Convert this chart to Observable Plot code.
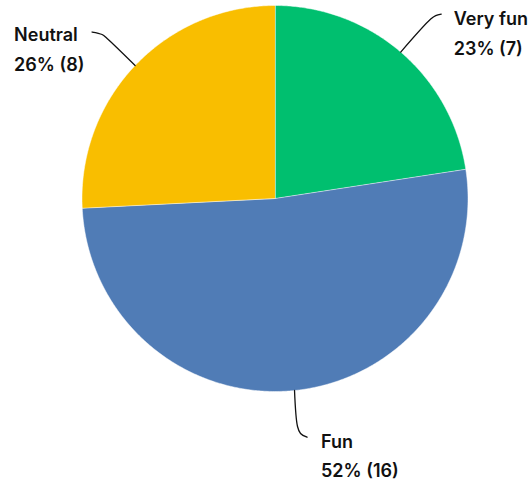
<!DOCTYPE html>
<html>
<head>
<meta charset="utf-8">
<script src="https://cdn.jsdelivr.net/npm/d3@7"></script>
<script src="https://cdn.jsdelivr.net/npm/@observablehq/plot@0.6"></script>
<style>
  html, body { margin: 0; padding: 0; background: #fff; }
  #chart svg { display: block; }
</style>
</head>
<body>
<div id="chart"></div>
<script>
// Survey answers: how fun was it?
const categories = ["Very fun", "Fun", "Neutral"];
const counts = [7, 16, 8];
const colors = ["#00bf6f", "#507cb6", "#f9be00"];

// Layout: pie centre and radius in pixels
const W = 530, H = 482, CX = 274.5, CY = 198, R = 193;
// Leader-line shapes, pixel offsets from the slice's outer mid-point (y down)
const leaderOffsets = [
  [[0, 0], [30, -33], [35, -36.5], [40.5, -38]],
  [[0, 0], [3, 36], [6, 43], [12.5, 46.7]],
  [[0, 0], [-28, -27], [-33, -31], [-43, -33.5]]
];
// Label anchor (left edge, first baseline), pixel offsets from the same point
const labelOffsets = [[53, -26.8], [26.5, 57], [-121, -24.3]];
const lineGap = 29.4;

const total = d3.sum(counts);
const arcs = d3.pie().sort(null).value(d => d)(counts);

// Slice outlines in unit-circle coordinates (0 rad = 12 o'clock, clockwise)
const slices = arcs.flatMap((a, i) => {
  const n = Math.max(2, Math.ceil((a.endAngle - a.startAngle) / (Math.PI / 360)));
  const pts = [{label: categories[i], x: 0, y: 0}];
  for (let k = 0; k <= n; k++) {
    const t = a.startAngle + (a.endAngle - a.startAngle) * k / n;
    pts.push({label: categories[i], x: Math.sin(t), y: Math.cos(t)});
  }
  return pts;
});

const mids = arcs.map(a => {
  const t = (a.startAngle + a.endAngle) / 2;
  return [Math.sin(t), Math.cos(t)];
});

const leaders = leaderOffsets.flatMap((path, i) =>
  path.map(([dx, dy]) => ({label: categories[i], x: mids[i][0] + dx / R, y: mids[i][1] - dy / R}))
);

const labels = categories.map((c, i) => {
  const [lx, ly] = labelOffsets[i];
  return {
    name: c,
    value: `${Math.round(counts[i] / total * 100)}% (${counts[i]})`,
    x: mids[i][0] + lx / R,
    y1: mids[i][1] - ly / R,
    y2: mids[i][1] - (ly + lineGap) / R
  };
});

const textStyle = {
  textAnchor: "start",
  lineAnchor: "bottom",
  fontSize: 18,
  fontWeight: 600,
  fill: "#111"
};

const chart = Plot.plot({
  width: W,
  height: H,
  margin: 0,
  style: {fontFamily: "Inter, 'Open Sans', sans-serif", background: "#fff"},
  x: {domain: [-1, 1], range: [CX - R, CX + R], axis: null},
  y: {domain: [-1, 1], range: [CY + R, CY - R], axis: null},
  color: {domain: categories, range: colors},
  marks: [
    Plot.line(slices, {x: "x", y: "y", z: "label", fill: "label", stroke: "#ffffff", strokeWidth: 0.6, strokeOpacity: 0.8, curve: "linear-closed"}),
    Plot.line(leaders, {x: "x", y: "y", z: "label", stroke: "#111", strokeWidth: 1.3, curve: "catmull-rom"}),
    Plot.text(labels, {x: "x", y: "y1", text: "name", ...textStyle}),
    Plot.text(labels, {x: "x", y: "y2", text: "value", ...textStyle})
  ]
});

document.getElementById("chart").append(chart);
</script>
</body>
</html>
